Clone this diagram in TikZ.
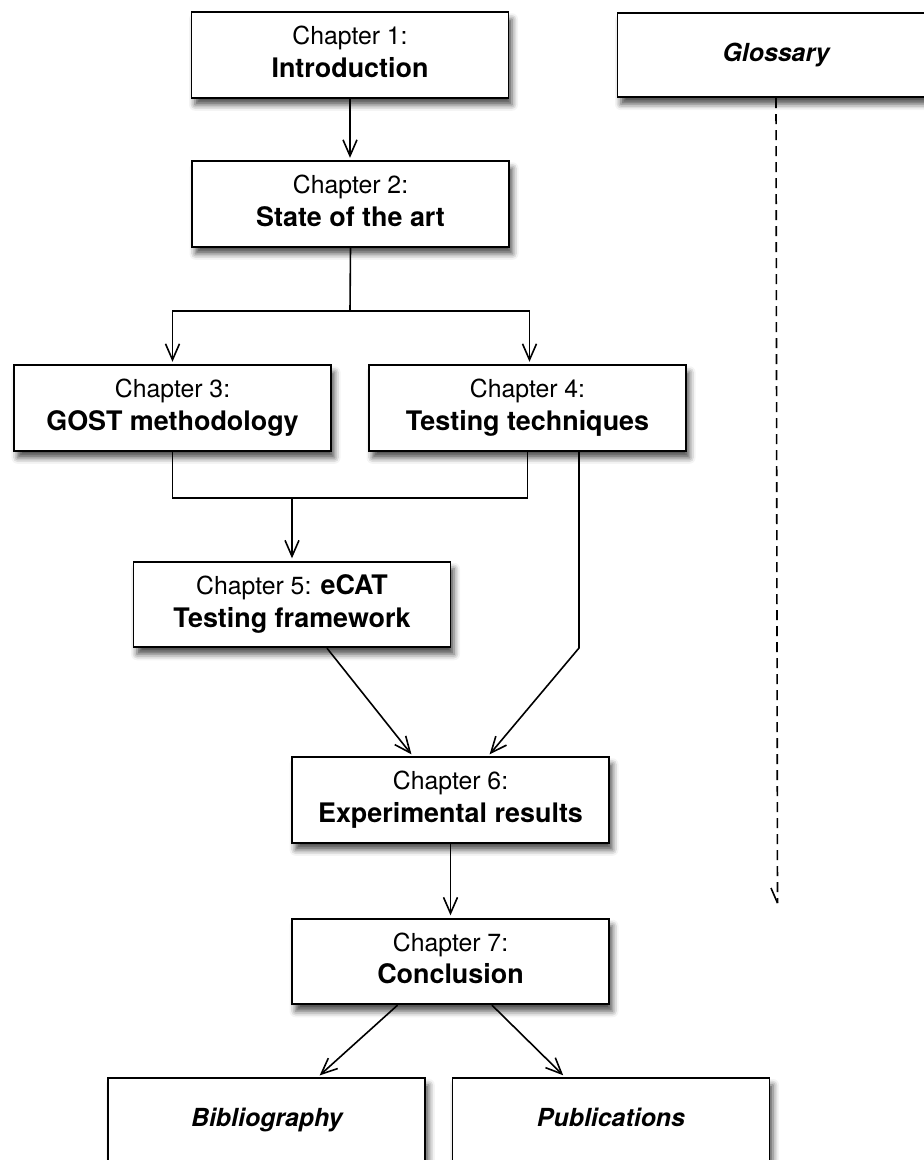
\documentclass[tikz,border=0pt]{standalone}
\usepackage{fontspec}
\setmainfont{TeX Gyre Heros}
\usetikzlibrary{arrows.meta,shadows.blur}

% equal line boxes so that every two-line label sits at the same height
\newcommand\lstrut{\rule[-7pt]{0pt}{25pt}}
\newcommand\chaptitle[1]{{\fontsize{26.9}{32.5}\selectfont\bfseries #1}}

\tikzset{
  chapbox/.style={draw=black, line width=1.9pt, fill=white,
    minimum width=317pt, minimum height=85.5pt, inner sep=0pt, align=center,
    font=\fontsize{24.8}{32.5}\selectfont,
    blur shadow={shadow xshift=3.5pt, shadow yshift=-7pt,
      shadow blur radius=6pt, shadow opacity=70}},
  extrabox/.style={chapbox, minimum height=84pt, text height=18pt, text depth=5pt,
    font=\fontsize{24.9}{30}\selectfont\bfseries\itshape},
  link/.style={line width=1.6pt},
  arr/.style={link, -{Straight Barb[length=16pt,width=14pt]}, shorten >=2.5pt},
}

\begin{document}
\begin{tikzpicture}[x=1pt,y=-1pt]
\useasboundingbox (0,0) rectangle (924,1160);

% chapters
\node[chapbox] (ch1) at (350,55)     {\lstrut Chapter 1:\\\chaptitle{Introduction}\lstrut};
\node[chapbox] (ch2) at (350.5,204)  {\lstrut Chapter 2:\\\chaptitle{State of the art}\lstrut};
\node[chapbox] (ch3) at (172.5,408)  {\lstrut Chapter 3:\\\chaptitle{GOST methodology}\lstrut};
\node[chapbox] (ch4) at (527.5,408)  {\lstrut Chapter 4:\\\chaptitle{Testing techniques}\lstrut};
\node[chapbox] (ch5) at (292,604.5)  {\lstrut Chapter 5: \chaptitle{eCAT}\\\chaptitle{Testing framework}\lstrut};
\node[chapbox] (ch6) at (450.5,800)  {\lstrut Chapter 6:\\\chaptitle{Experimental results}\lstrut};
\node[chapbox] (ch7) at (450.5,961.5){\lstrut Chapter 7:\\\chaptitle{Conclusion}\lstrut};

% back matter
\node[extrabox] (gloss) at (776,55.2)   {Glossary};
\node[extrabox] (bib)   at (266.8,1120) {Bibliography};
\node[extrabox] (pub)   at (611,1120)   {Publications};

% reading order
\draw[arr] (ch1.south) -- (ch1.south |- ch2.north);

\coordinate (split) at (350,311);
\draw[link] (ch2.south) -- (split);
\draw[arr] (split) -| (ch3.north);
\draw[arr] (split) -| ([xshift=2pt]ch4.north);

\coordinate (merge) at (292,498);
\draw[link] (ch3.south) |- (merge) -| (ch4.south);
\draw[arr] (merge) -- (ch5.north);

\coordinate (bend4) at (579,648);
\draw[arr] ([xshift=51.5pt]ch4.south) -- (bend4) -- ([xshift=37.5pt]ch6.north);
\draw[arr] ([xshift=35pt]ch5.south) -- ([xshift=-37.5pt]ch6.north);

\draw[arr] (ch6.south) -- (ch7.north);

\draw[arr] ([xshift=-53pt]ch7.south) -- ([xshift=51pt]bib.north);
\draw[arr] ([xshift=41.5pt]ch7.south) -- ([xshift=-46pt]pub.north);

% glossary is consulted throughout
\coordinate (gtip) at (777.5,903);
\draw[link, dash pattern=on 10pt off 6pt] (gloss.south) -- (gtip);
\draw[link] (gtip) -- ++(-6.5,-15);
\end{tikzpicture}
\end{document}
